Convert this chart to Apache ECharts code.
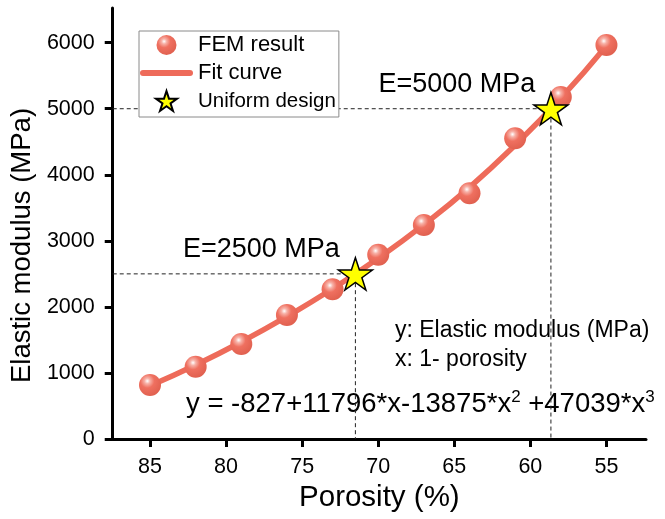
<!DOCTYPE html>
<html>
<head>
<meta charset="utf-8">
<script src="https://cdn.jsdelivr.net/npm/echarts@6/dist/echarts.min.js"></script>
<style>
  html, body { margin: 0; padding: 0; background: #fff; }
  #chart { width: 665px; height: 519px; }
</style>
</head>
<body>
<div id="chart"></div>
<script>
// FEM results: porosity (%) and elastic modulus (MPa)
var porosity = [85, 82, 79, 76, 73, 70, 67, 64, 61, 58, 55];
var femModulus = [818, 1095, 1438, 1877, 2266, 2790, 3240, 3720, 4553, 5178, 5965];

// Fitted cubic curve sampled at the same porosities
var fitPorosity = [85, 82, 79, 76, 73, 70, 67, 64, 61, 58, 55];
var fitModulus = [805, 1120, 1470, 1855, 2275, 2735, 3245, 3810, 4450, 5160, 5955];

// Uniform design targets
var designPorosity = [71.5, 58.65];
var designModulus = [2500, 5000];

// Axis ticks
var xTicks = [85, 80, 75, 70, 65, 60, 55];
var yTicks = [0, 1000, 2000, 3000, 4000, 5000, 6000];

var X_MIN = 52.4, X_MAX = 87.45, Y_MAX = 6525;
var FONT = 'Liberation Sans, Arial, sans-serif';
var RED = '#EE6B5A';

function pairs(xs, ys) {
  return xs.map(function (x, i) { return [x, ys[i]]; });
}

var sphere = {
  type: 'radial', x: 0.38, y: 0.32, r: 0.7,
  colorStops: [
    { offset: 0, color: '#ffffff' },
    { offset: 0.18, color: '#F7B1A7' },
    { offset: 0.45, color: '#EF7060' },
    { offset: 1, color: '#E0604F' }
  ]
};

var STAR = 'path://M50,2 L61.2,36.6 L97.6,36.6 L68.2,58 L79.4,92.6 L50,71.2 L20.6,92.6 L31.8,58 L2.4,36.6 L38.8,36.6 Z';
var BAR = 'path://M3,0 L50,0 A3,3 0 0 1 50,6 L3,6 A3,3 0 0 1 3,0 Z';

// dashed guides from the y axis to each design point and down to the x axis
var guideSeries = designPorosity.map(function (p, i) {
  return {
    type: 'line',
    silent: true,
    symbol: 'none',
    z: 1,
    data: [[X_MAX, designModulus[i]], [p, designModulus[i]], [p, 0]],
    lineStyle: { color: '#222', width: 1, type: [4, 3] }
  };
});

var chart = echarts.init(document.getElementById('chart'));
chart.setOption({
  animation: false,
  textStyle: { fontFamily: FONT },
  grid: { left: 110, right: 19, top: 8, bottom: 80 },
  legend: {
    data: [
      { name: 'FEM result' },
      { name: 'Fit curve', icon: BAR },
      { name: 'Uniform design', textStyle: { fontSize: 20.5 } }
    ],
    orient: 'vertical',
    left: 139, top: 31,
    itemWidth: 53, itemHeight: 20, itemGap: 6,
    padding: [3, 3, 5, 1],
    borderColor: '#8a8a8a', borderWidth: 1,
    backgroundColor: '#fff',
    textStyle: { fontSize: 22, color: '#000', fontFamily: FONT },
    z: 10
  },
  xAxis: {
    type: 'value',
    inverse: true,
    min: X_MIN, max: X_MAX,
    name: 'Porosity (%)',
    nameLocation: 'middle',
    nameGap: 43,
    nameTextStyle: { fontSize: 29.5, color: '#000', fontFamily: FONT },
    axisLine: { lineStyle: { color: '#000', width: 3 } },
    axisTick: { customValues: xTicks, length: 8, lineStyle: { color: '#000', width: 3 } },
    axisLabel: { customValues: xTicks, fontSize: 21.5, color: '#000', margin: 17 },
    splitLine: { show: false }
  },
  yAxis: {
    type: 'value',
    min: 0, max: Y_MAX,
    name: 'Elastic modulus (MPa)',
    nameLocation: 'middle',
    nameGap: 71,
    nameTextStyle: { fontSize: 27.5, color: '#000', fontFamily: FONT, padding: [0, 44, 0, 0] },
    axisLine: { show: true, lineStyle: { color: '#000', width: 3 } },
    axisTick: { show: true, customValues: yTicks, length: 8, lineStyle: { color: '#000', width: 3 } },
    axisLabel: {
      customValues: yTicks, fontSize: 21.5, color: '#000', margin: 18,
      formatter: function (v) { return String(v); }
    },
    splitLine: { show: false }
  },
  series: guideSeries.concat([
    {
      name: 'Fit curve',
      type: 'line',
      smooth: true,
      symbol: 'none',
      z: 2,
      data: pairs(fitPorosity, fitModulus),
      itemStyle: { color: RED },
      lineStyle: { color: RED, width: 5.5 }
    },
    {
      name: 'FEM result',
      type: 'scatter',
      symbol: 'circle',
      symbolSize: 22,
      z: 3,
      data: pairs(porosity, femModulus),
      itemStyle: { color: sphere, opacity: 1 }
    },
    {
      name: 'Uniform design',
      type: 'scatter',
      symbol: STAR,
      symbolSize: 34,
      symbolKeepAspect: true,
      z: 4,
      data: pairs(designPorosity, designModulus),
      itemStyle: { color: '#FFFF00', borderColor: '#000', borderWidth: 1.5, opacity: 1 },
      label: {
        show: true,
        position: 'inside',
        offset: [-94, -24],
        fontSize: 27,
        color: '#000',
        fontFamily: FONT,
        formatter: function (p) { return 'E=' + p.value[1] + ' MPa'; }
      }
    }
  ]),
  graphic: [
    {
      type: 'text', left: 395, top: 319,
      style: { text: 'y: Elastic modulus (MPa)', font: '23px ' + FONT, fill: '#000' }
    },
    {
      type: 'text', left: 395, top: 348,
      style: { text: 'x: 1- porosity', font: '23px ' + FONT, fill: '#000' }
    },
    {
      type: 'text', left: 186, top: 389,
      style: {
        text: 'y = -827+11796*x-13875*x{sup|2} +47039*x{sup|3}',
        font: '27.5px ' + FONT, fill: '#000',
        rich: { sup: { fontSize: 17, fontFamily: FONT, fill: '#000', padding: [0, 0, 14, 0] } }
      }
    }
  ]
});
</script>
</body>
</html>
